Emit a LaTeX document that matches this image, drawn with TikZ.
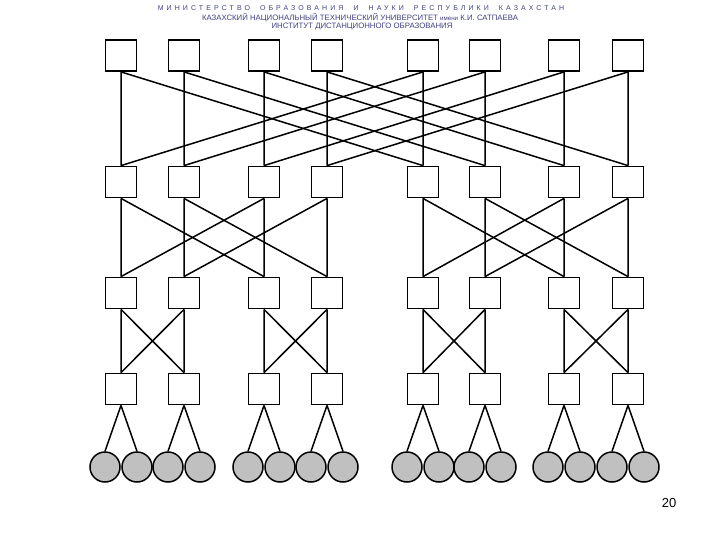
\documentclass[tikz,border=0pt]{standalone}
\usepackage{fontspec}
\setmainfont{Liberation Sans}
\usetikzlibrary{positioning}
\definecolor{headerblue}{RGB}{64,64,128}
\definecolor{nodegray}{RGB}{192,192,192}

\begin{document}
\begin{tikzpicture}[x=1pt, y=-1pt,
		switchbox/.style={draw=black, line width=1.8pt, fill=white,
			minimum size=31pt, inner sep=0pt},
		procnode/.style={circle, draw=black, line width=1.5pt, fill=nodegray,
			minimum size=30pt, inner sep=0pt},
		link/.style={line width=1.5pt, draw=black},
		header/.style={text=headerblue, inner sep=0pt,
			font=\fontsize{7.8}{8}\selectfont}
	]
		\useasboundingbox (0,0) rectangle (720,540);
		% header lines
		\node[header, font=\fontsize{7}{8}\selectfont\addfontfeature{LetterSpace=44}] (ministry) at (361,8) {МИНИСТЕРСТВО\ \ ОБРАЗОВАНИЯ\ \ И\ \ НАУКИ\ \ РЕСПУБЛИКИ\ \ КАЗАХСТАН};
		\node[header] (university) at (360,17.5) {КАЗАХСКИЙ НАЦИОНАЛЬНЫЙ ТЕХНИЧЕСКИЙ УНИВЕРСИТЕТ {\fontsize{6.2}{7}\selectfont имени} К.И. САТПАЕВА};
		\node[header] (institute) at (362,27) {ИНСТИТУТ ДИСТАНЦИОННОГО ОБРАЗОВАНИЯ};
		% switch boxes
		\foreach \r/\y in {1/55.5, 2/182, 3/293, 4/389}
			\foreach \c/\x in {1/121, 2/184, 3/264, 4/327, 5/423, 6/485, 7/564, 8/628}
				\node[switchbox] (sw\r\c) at (\x,\y) {};
		% stage links
		\foreach \c/\p in {1/5, 2/6, 3/7, 4/8, 5/1, 6/2, 7/3, 8/4}
			\draw[link] (sw1\c.south) -- (sw2\c.north) (sw1\c.south) -- (sw2\p.north);
		\foreach \c/\p in {1/3, 2/4, 3/1, 4/2, 5/7, 6/8, 7/5, 8/6}
			\draw[link] (sw2\c.south) -- (sw3\c.north) (sw2\c.south) -- (sw3\p.north);
		\foreach \c/\p in {1/2, 2/1, 3/4, 4/3, 5/6, 6/5, 7/8, 8/7}
			\draw[link] (sw3\c.south) -- (sw4\c.north) (sw3\c.south) -- (sw4\p.north);
		% processors
		\foreach \c/\x in {1/121, 2/184, 3/264, 4/327, 5/423, 6/485, 7/564, 8/628} {
			\node[procnode] (proc\c a) at (\x-16,467) {};
			\node[procnode] (proc\c b) at (\x+16,467) {};
			\draw[link] (sw4\c.south) -- (proc\c a.north) (sw4\c.south) -- (proc\c b.north);
		}
		\node[font=\fontsize{13}{15}\selectfont] (page) at (669,503) {20};
	\end{tikzpicture}
\end{document}
